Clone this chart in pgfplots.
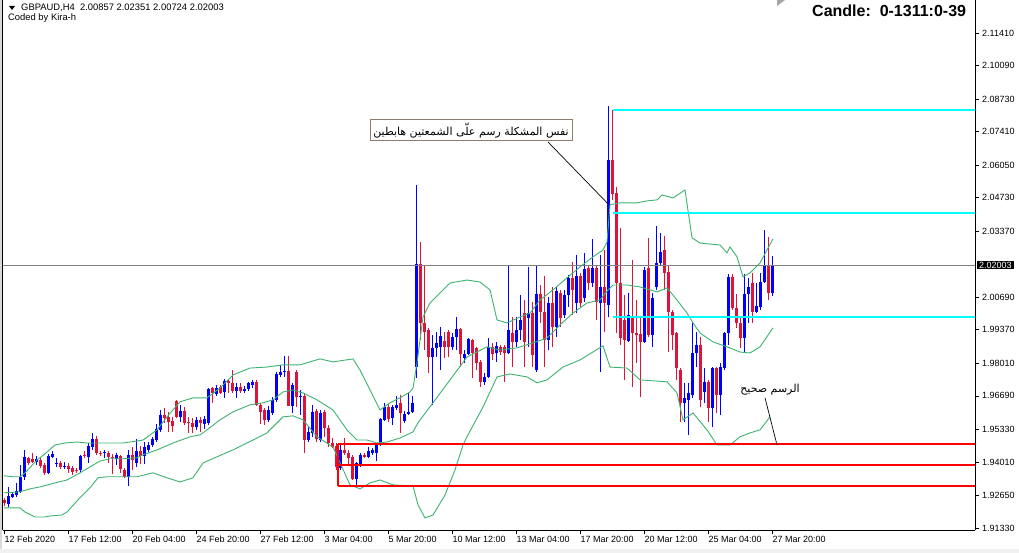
\documentclass[border=0pt]{standalone}
\usepackage{fontspec}
\setmainfont{Liberation Sans}
\newfontfamily\arabicfont[Script=Arabic]{DejaVu Sans}
\TeXXeTstate=1
\usepackage{pgfplots}
\pgfplotsset{compat=1.18}
\usepackage{pgfplotstable}
\definecolor{bull}{RGB}{0,0,255}
\definecolor{bear}{RGB}{220,20,60}
\definecolor{band}{RGB}{60,179,113}
\definecolor{aqua}{RGB}{0,255,255}
\definecolor{pline}{RGB}{128,128,128}
\definecolor{boxline}{RGB}{140,125,110}
\newcommand\tickfont{\fontsize{9bp}{10bp}\selectfont}
\newcommand\headfont{\fontsize{9.4bp}{10bp}\selectfont}

\pgfplotstableread{
i o h l c
1 1.9231 1.9300 1.9219 1.9264
2 1.9260 1.9280 1.9256 1.9272
3 1.9268 1.9316 1.9260 1.9284
4 1.9280 1.9389 1.9276 1.9341
5 1.9341 1.9450 1.9328 1.9422
8 1.9401 1.9426 1.9389 1.9414
11 1.9357 1.9434 1.9353 1.9426
12 1.9422 1.9446 1.9418 1.9434
13 1.9393 1.9418 1.9381 1.9397
15 1.9381 1.9401 1.9373 1.9385
19 1.9369 1.9430 1.9361 1.9426
21 1.9422 1.9478 1.9397 1.9466
22 1.9462 1.9519 1.9450 1.9494
25 1.9438 1.9450 1.9418 1.9442
28 1.9414 1.9438 1.9389 1.9430
31 1.9341 1.9450 1.9304 1.9430
33 1.9397 1.9494 1.9381 1.9446
35 1.9426 1.9482 1.9393 1.9462
36 1.9450 1.9482 1.9442 1.9470
37 1.9470 1.9503 1.9462 1.9494
38 1.9490 1.9556 1.9482 1.9535
39 1.9531 1.9612 1.9523 1.9592
44 1.9584 1.9633 1.9564 1.9608
48 1.9543 1.9584 1.9531 1.9572
50 1.9555 1.9588 1.9535 1.9576
51 1.9560 1.9701 1.9552 1.9697
53 1.9677 1.9713 1.9669 1.9701
55 1.9685 1.9738 1.9661 1.9730
58 1.9689 1.9722 1.9661 1.9705
60 1.9689 1.9709 1.9681 1.9697
61 1.9697 1.9726 1.9689 1.9722
62 1.9713 1.9734 1.9701 1.9726
66 1.9572 1.9629 1.9564 1.9612
67 1.9600 1.9665 1.9592 1.9653
68 1.9653 1.9766 1.9645 1.9758
69 1.9754 1.9795 1.9746 1.9766
70 1.9766 1.9831 1.9746 1.9770
72 1.9629 1.9722 1.9600 1.9713
74 1.9665 1.9693 1.9592 1.9669
76 1.9490 1.9543 1.9482 1.9523
77 1.9519 1.9633 1.9503 1.9604
79 1.9490 1.9612 1.9482 1.9600
84 1.9377 1.9470 1.9369 1.9450
88 1.9332 1.9401 1.9300 1.9397
89 1.9389 1.9438 1.9381 1.9430
91 1.9422 1.9462 1.9418 1.9446
92 1.9438 1.9458 1.9430 1.9450
93 1.9438 1.9478 1.9405 1.9470
94 1.9470 1.9580 1.9466 1.9576
95 1.9572 1.9641 1.9568 1.9625
97 1.9580 1.9633 1.9552 1.9625
98 1.9620 1.9669 1.9612 1.9633
100 1.9568 1.9608 1.9560 1.9596
101 1.9596 1.9681 1.9592 1.9604
102 1.9604 1.9669 1.9600 1.9641
103 1.9786 2.0525 1.9742 2.0204
107 1.9827 1.9916 1.9633 1.9864
108 1.9864 1.9928 1.9827 1.9884
109 1.9868 1.9949 1.9774 1.9912
112 1.9868 1.9924 1.9855 1.9908
113 1.9908 1.9989 1.9855 1.9941
115 1.9823 1.9855 1.9803 1.9839
116 1.9839 1.9904 1.9835 1.9900
120 1.9726 1.9762 1.9713 1.9746
121 1.9746 1.9904 1.9742 1.9868
123 1.9843 1.9888 1.9807 1.9872
126 1.9843 2.0200 1.9839 1.9937
128 1.9888 1.9989 1.9868 1.9937
129 1.9937 2.0079 1.9896 1.9977
131 1.9985 2.0192 1.9868 2.0005
133 1.9774 2.0200 1.9766 2.0083
136 1.9896 2.0071 1.9855 2.0046
138 1.9949 2.0111 1.9908 2.0095
140 1.9997 2.0099 1.9985 2.0079
141 2.0079 2.0160 2.0030 2.0148
143 2.0046 2.0241 2.0005 2.0156
145 2.0066 2.0249 2.0050 2.0184
147 2.0127 2.0306 2.0111 2.0188
149 2.0046 2.0241 1.9766 2.0111
151 2.0038 2.0845 1.9989 2.0626
156 1.9892 2.0087 1.9888 1.9997
160 1.9888 2.0192 1.9884 2.0180
162 1.9916 2.0087 1.9868 2.0066
163 2.0111 2.0358 2.0099 2.0208
164 2.0208 2.0330 2.0200 2.0253
170 1.9641 1.9722 1.9564 1.9661
171 1.9653 1.9722 1.9511 1.9681
172 1.9673 1.9965 1.9661 1.9843
173 1.9843 1.9928 1.9786 1.9876
175 1.9685 1.9782 1.9641 1.9726
177 1.9620 1.9786 1.9543 1.9782
179 1.9673 1.9803 1.9592 1.9786
180 1.9782 1.9928 1.9774 1.9924
181 1.9924 2.0164 1.9876 2.0152
185 1.9904 2.0164 1.9843 2.0083
186 2.0083 2.0148 1.9965 2.0111
188 2.0010 2.0127 2.0005 2.0034
189 2.0030 2.0168 2.0018 2.0131
190 2.0131 2.0342 2.0127 2.0196
192 2.00857 2.02351 2.00724 2.02003
}\bulltab

\pgfplotstableread{
i o h l c
0 1.9247 1.9256 1.9223 1.9235
6 1.9418 1.9422 1.9389 1.9397
7 1.9414 1.9438 1.9397 1.9401
9 1.9409 1.9418 1.9377 1.9385
10 1.9389 1.9397 1.9349 1.9357
14 1.9397 1.9405 1.9373 1.9381
16 1.9385 1.9397 1.9357 1.9373
17 1.9377 1.9385 1.9349 1.9361
18 1.9369 1.9377 1.9357 1.9365
20 1.9430 1.9446 1.9418 1.9426
23 1.9494 1.9507 1.9430 1.9438
24 1.9438 1.9446 1.9426 1.9434
26 1.9438 1.9446 1.9397 1.9422
27 1.9422 1.9434 1.9353 1.9418
29 1.9426 1.9430 1.9357 1.9373
30 1.9369 1.9377 1.9337 1.9341
32 1.9430 1.9462 1.9369 1.9409
34 1.9446 1.9466 1.9393 1.9426
40 1.9592 1.9620 1.9560 1.9580
41 1.9584 1.9604 1.9523 1.9564
42 1.9568 1.9584 1.9523 1.9547
43 1.9649 1.9653 1.9580 1.9584
45 1.9608 1.9625 1.9552 1.9560
46 1.9564 1.9584 1.9519 1.9560
47 1.9560 1.9580 1.9519 1.9543
49 1.9572 1.9584 1.9523 1.9560
52 1.9701 1.9705 1.9641 1.9681
54 1.9705 1.9713 1.9677 1.9681
56 1.9730 1.9734 1.9681 1.9722
57 1.9722 1.9774 1.9681 1.9689
59 1.9705 1.9722 1.9681 1.9689
63 1.9726 1.9734 1.9629 1.9633
64 1.9633 1.9641 1.9556 1.9604
65 1.9612 1.9620 1.9552 1.9572
71 1.9770 1.9831 1.9653 1.9629
73 1.9766 1.9774 1.9624 1.9665
75 1.9669 1.9681 1.9438 1.9490
78 1.9608 1.9616 1.9482 1.9494
80 1.9604 1.9612 1.9503 1.9539
81 1.9539 1.9552 1.9462 1.9478
82 1.9478 1.9498 1.9458 1.9462
83 1.9466 1.9478 1.9369 1.9381
85 1.9450 1.9498 1.9430 1.9438
86 1.9438 1.9450 1.9389 1.9418
87 1.9422 1.9430 1.9328 1.9332
90 1.9430 1.9438 1.9418 1.9422
96 1.9625 1.9637 1.9564 1.9576
99 1.9641 1.9673 1.9519 1.9600
104 2.0204 2.0293 1.9896 1.9965
105 1.9965 2.0200 1.9855 1.9928
106 1.9937 1.9945 1.9762 1.9827
110 1.9892 1.9928 1.9823 1.9868
111 1.9928 1.9937 1.9827 1.9868
114 1.9941 1.9945 1.9786 1.9839
117 1.9896 1.9900 1.9742 1.9843
118 1.9864 1.9868 1.9774 1.9803
119 1.9807 1.9815 1.9705 1.9726
122 1.9868 1.9884 1.9815 1.9839
124 1.9868 1.9876 1.9835 1.9847
125 1.9868 1.9876 1.9726 1.9843
127 1.9924 1.9989 1.9786 1.9888
130 2.0005 2.0058 1.9786 1.9888
132 2.0005 2.0050 1.9786 1.9835
134 2.0083 2.0119 1.9965 2.0010
135 2.0010 2.0156 1.9786 1.9896
137 2.0046 2.0111 1.9868 1.9949
139 2.0087 2.0099 1.9949 1.9985
142 2.0148 2.0212 1.9997 2.0099
144 2.0156 2.0168 2.0030 2.0046
146 2.0188 2.0200 2.0099 2.0127
148 2.0188 2.0200 1.9977 2.0050
150 2.0111 2.0261 1.9928 2.0046
152 2.0626 2.0829 2.0464 2.0488
153 2.0492 2.0517 1.9924 2.0127
154 2.0127 2.0350 1.9876 1.9904
155 1.9977 2.0079 1.9734 1.9896
157 1.9985 2.0220 1.9705 1.9924
158 1.9924 2.0058 1.9803 1.9916
159 1.9920 1.9989 1.9665 1.9888
161 2.0188 2.0310 1.9908 1.9916
165 2.0261 2.0318 2.0099 2.0168
166 2.0172 2.0200 1.9847 2.0010
167 2.0010 2.0018 1.9855 1.9916
168 1.9924 1.9928 1.9734 1.9782
169 1.9774 1.9782 1.9564 1.9641
174 1.9876 1.9908 1.9624 1.9653
176 1.9726 1.9734 1.9564 1.9620
178 1.9782 1.9786 1.9600 1.9673
182 2.0152 2.0164 2.0018 2.0026
183 2.0026 2.0083 1.9945 1.9965
184 1.9965 1.9985 1.9864 1.9904
187 2.0127 2.0168 1.9965 2.0010
191 2.0196 2.0314 2.0058 2.0087
}\beartab

\pgfplotstableread{
x y
0 1.9345
2.25 1.9341
4 1.9341
5.25 1.9357
8.25 1.9409
10.25 1.9434
12.75 1.9470
15.25 1.9478
18.25 1.9482
20.75 1.9478
24 1.9478
26.5 1.9478
29.75 1.9478
33.25 1.9486
34.75 1.9490
38.25 1.9531
40.75 1.9584
44 1.9645
47.25 1.9661
50.75 1.9661
54 1.9701
57.25 1.9754
61.5 1.9782
65.75 1.9786
69.75 1.9795
74 1.9795
76.5 1.9807
79 1.9819
82.25 1.9807
87.25 1.9819
89 1.9774
91.5 1.9693
94 1.9612
96.5 1.9641
99 1.9661
101.5 1.9685
102.25 1.9701
103.25 1.9803
104.75 1.9989
106.5 2.0046
111.5 2.0127
115.75 2.0139
119 2.0131
121.5 2.0099
123.25 1.9977
125.75 1.9965
129 1.9989
131.5 2.0005
134 2.0058
137.25 2.0099
140.75 2.0148
144 2.0192
147.25 2.0233
149.75 2.0261
150.75 2.0293
151.5 2.0444
154 2.0452
158.25 2.0452
160.75 2.0460
163.25 2.0464
164.5 2.0484
167.25 2.0472
170.25 2.0504
172 2.0310
174 2.0289
179 2.0281
180.75 2.0249
181.5 2.0273
183.25 2.0233
184.75 2.0152
186.5 2.0168
189 2.0208
190.75 2.0261
192.25 2.0306
}\bbup

\pgfplotstableread{
x y
0 1.9276
4 1.9280
6.5 1.9292
9 1.9300
12.75 1.9316
15.75 1.9328
19 1.9357
21.5 1.9381
24 1.9405
26.5 1.9414
29.75 1.9414
33.25 1.9418
34.75 1.9430
38.25 1.9450
42.25 1.9478
46.5 1.9503
49 1.9511
50.75 1.9531
54 1.9572
57.25 1.9604
61.5 1.9633
64.75 1.9641
67.25 1.9653
69.75 1.9685
72.25 1.9693
74.75 1.9681
78.25 1.9653
82.25 1.9612
85.75 1.9531
88.25 1.9490
90.75 1.9490
93.25 1.9478
95.75 1.9482
99 1.9498
102.25 1.9523
103.5 1.9560
107.25 1.9641
111.5 1.9734
115.75 1.9827
120.75 1.9868
124 1.9855
128.25 1.9864
132.25 1.9884
135.75 1.9904
139 1.9957
142.25 2.0005
145.75 2.0046
149 2.0058
151 2.0099
152.25 2.0119
155.75 2.0119
159 2.0111
163.25 2.0091
165.75 2.0107
168.25 2.0058
170.75 2.0005
172.25 1.9965
174 1.9924
177.25 1.9888
180.75 1.9868
184 1.9847
186.5 1.9843
189 1.9868
192.25 1.9945
}\bbmid

\pgfplotstableread{
x y
0 1.9215
4 1.9215
5.25 1.9198
7.75 1.9178
10.25 1.9178
11.5 1.9182
14.5 1.9186
15.75 1.9198
19 1.9256
21.5 1.9296
23.5 1.9337
25.75 1.9341
29.75 1.9341
33.25 1.9341
37.25 1.9357
40.75 1.9337
44 1.9320
47.25 1.9337
49.75 1.9397
53.25 1.9422
57.25 1.9450
62.25 1.9490
65.75 1.9519
69.75 1.9584
72.25 1.9588
74.75 1.9572
78.25 1.9503
82.25 1.9462
86.5 1.9308
89 1.9292
91.5 1.9316
94 1.9328
97.25 1.9308
102.25 1.9304
103.5 1.9227
105.25 1.9174
107.25 1.9186
110.25 1.9267
112.75 1.9369
114.75 1.9470
115.75 1.9503
119.75 1.9624
123.25 1.9746
126.5 1.9758
130.75 1.9746
133.25 1.9722
135.75 1.9734
139.75 1.9786
144 1.9815
149.75 1.9872
151.5 1.9786
155.75 1.9782
159 1.9734
165.75 1.9726
168.25 1.9681
169.75 1.9572
172.25 1.9600
175.75 1.9531
178.25 1.9470
181.5 1.9470
184 1.9503
186.5 1.9519
189 1.9531
191.5 1.9584
}\bblow

\begin{document}
\begin{tikzpicture}
\path[use as bounding box] (0,0) rectangle (1019bp,553bp);
\fill[white] (0,0) rectangle (1019bp,553bp);
\fill[black!6] (0,0) rectangle (1019bp,4bp);
\fill[black!15] (0,4bp) rectangle (1.8bp,553bp);
\draw[black, line width=1bp] (2.5bp,23bp) -- (2.5bp,553bp);
\begin{axis}[
  at={(3bp,23bp)}, anchor=south west,
  scale only axis, width=972bp, height=530bp,
  xmin=-0.25, xmax=242.75, ymin=1.91251, ymax=2.12748,
  axis x line*=bottom, axis y line*=right,
  axis line style={line width=0.8bp, black},
  tick align=outside, major tick length=4bp,
  tick style={line width=0.8bp, black},
  clip=false,
  xtick={0,16,...,192},
  xticklabels={12 Feb 2020,17 Feb 12:00,20 Feb 04:00,24 Feb 20:00,27 Feb 12:00,3 Mar 04:00,5 Mar 20:00,10 Mar 12:00,13 Mar 04:00,17 Mar 20:00,20 Mar 12:00,25 Mar 04:00,27 Mar 20:00},
  xticklabel style={anchor=north west, inner sep=0pt, font=\tickfont, xshift=0.5bp, yshift=-2bp},
  ytick={2.11410,2.10090,2.08730,2.07410,2.06050,2.04730,2.03370,2.00690,1.99370,1.98010,1.96690,1.95330,1.94010,1.92650,1.91330},
  yticklabels={2.11410,2.10090,2.08730,2.07410,2.06050,2.04730,2.03370,2.00690,1.99370,1.98010,1.96690,1.95330,1.94010,1.92650,1.91330},
  yticklabel style={anchor=west, inner sep=0pt, font=\tickfont, xshift=3bp},
]
% wicks
\addplot[draw=none, mark=none, forget plot, error bars/.cd, y dir=plus, y explicit, error mark=none,
  error bar style={draw=bull, line width=1bp}]
  table[x=i, y=l, y error expr=\thisrow{h}-\thisrow{l}] {\bulltab};
\addplot[draw=none, mark=none, forget plot, error bars/.cd, y dir=plus, y explicit, error mark=none,
  error bar style={draw=bear, line width=1bp}]
  table[x=i, y=l, y error expr=\thisrow{h}-\thisrow{l}] {\beartab};
% bodies
\addplot[draw=none, mark=none, forget plot, error bars/.cd, y dir=plus, y explicit, error mark=none,
  error bar style={draw=bull, line width=3bp}]
  table[x=i, y=o, y error expr=\thisrow{c}-\thisrow{o}] {\bulltab};
\addplot[draw=none, mark=none, forget plot, error bars/.cd, y dir=plus, y explicit, error mark=none,
  error bar style={draw=bear, line width=3bp}]
  table[x=i, y=c, y error expr=\thisrow{o}-\thisrow{c}] {\beartab};
% bands
\addplot[band, line width=0.9bp, mark=none] table[x=x, y=y] {\bbup};
\addplot[band, line width=0.9bp, mark=none] table[x=x, y=y] {\bbmid};
\addplot[band, line width=0.9bp, mark=none] table[x=x, y=y] {\bblow};
% current price line
\addplot[pline, line width=0.6bp, mark=none] coordinates {(-0.25,2.02003) (242.75,2.02003)};
% cyan levels
\addplot[aqua, line width=2bp, mark=none] coordinates {(152.25,2.0829) (242.75,2.0829)};
\addplot[aqua, line width=2bp, mark=none] coordinates {(152.25,2.0411) (242.75,2.0411)};
\addplot[aqua, line width=2bp, mark=none] coordinates {(152.25,1.9991) (242.75,1.9991)};
% red levels
\addplot[red, line width=2bp, mark=none] coordinates {(83.5,1.9473) (242.75,1.9473)};
\addplot[red, line width=2bp, mark=none] coordinates {(83.5,1.9389) (242.75,1.9389)};
\addplot[red, line width=2bp, mark=none] coordinates {(83.5,1.9303) (242.75,1.9303)};
\addplot[red, line width=1.5bp, mark=none] coordinates {(83.5,1.9473) (83.5,1.9303)};
% annotation lines
\addplot[black, line width=0.7bp, mark=none] coordinates {(136,2.0699) (151,2.0448)};
\addplot[black, line width=0.7bp, mark=none] coordinates {(190.25,1.9661) (193.25,1.9470)};
% annotations
\node[draw=boxline, fill=white, line width=0.8bp, inner sep=1bp, minimum width=202bp, minimum height=21bp,
  font=\arabicfont\fontsize{11bp}{13bp}\selectfont] at (axis cs:116.75,2.0746)
  {\beginR نفس المشكلة رسم علّى الشمعتين هابطين\endR};
\node[inner sep=0pt, font=\arabicfont\fontsize{11bp}{13bp}\selectfont] at (axis cs:191.5,1.9693)
  {\beginR الرسم صحيح\endR};
% current price label
\node[fill=black, text=white, anchor=west, inner xsep=2.5bp, inner ysep=1.2bp, font=\tickfont, xshift=1.5bp]
  at (axis cs:242.75,2.02003) {2.02003};
\end{axis}
\fill[black] (9bp,547bp) -- (15bp,547bp) -- (12bp,543bp) -- cycle;
\node[anchor=west, inner sep=0pt, font=\headfont] at (21bp,545.5bp) {GBPAUD,H4\ \ 2.00857 2.02351 2.00724 2.02003};
\node[anchor=west, inner sep=0pt, font=\headfont] at (8bp,534.5bp) {Coded by Kira-h};
\node[anchor=west, inner sep=0pt, font=\fontsize{16bp}{18bp}\selectfont\bfseries] at (812bp,542.5bp) {Candle:\ \ 0-1311:0-39};
\fill[black!35] (777bp,553bp) -- (785bp,553bp) -- (777bp,547bp) -- cycle;
\end{tikzpicture}
\end{document}
